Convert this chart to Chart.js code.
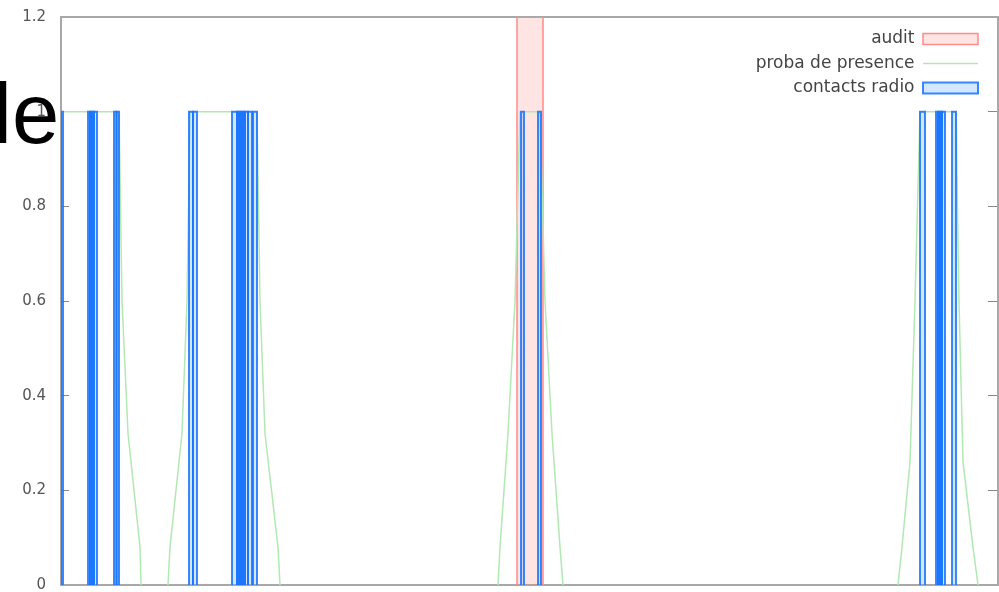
<!DOCTYPE html>
<html>
<head>
<meta charset="utf-8">
<script src="https://cdn.jsdelivr.net/npm/chart.js@4.4.1/dist/chart.umd.min.js"></script>
<style>
    html, body { margin: 0; padding: 0; background: #fff; overflow: hidden; }
    #wrap { position: relative; width: 999px; height: 592px; }
    #big-title {
        position: absolute; left: -7px; top: 71px;
        font-family: 'Liberation Sans', Arial, sans-serif;
        font-size: 85px; line-height: 85px; color: #000;
        white-space: nowrap; z-index: 2;
    }
</style>
</head>
<body>
<div id="wrap">
    <canvas id="presence-chart"></canvas>
    <div id="big-title">le</div>
</div>
<script>
// Axe X (unites de temps), axe Y
const xMin = 0;
const xMax = 937;
const yTicks = [0, 0.2, 0.4, 0.6, 0.8, 1, 1.2];
const yTickLabels = ['0', '0.2', '0.4', '0.6', '0.8', '1', '1.2'];

// Audit
const auditStart = [456];
const auditEnd = [482];
const auditValue = [1.2];

// Contacts radio (debut / fin de chaque contact)
const radioStart = [0, 27, 29, 31, 33, 53, 55.5, 128, 132, 171, 176, 178, 180, 182, 184, 187, 192, 460, 477, 859, 875, 877, 879, 881, 891];
const radioEnd   = [2, 29, 31, 33, 36, 55.5, 58, 132, 136, 176, 178, 180, 182, 184, 187, 191, 196, 463, 480, 864, 877, 879, 881, 884, 895];
const radioValue = [1, 1, 1, 1, 1, 1, 1, 1, 1, 1, 1, 1, 1, 1, 1, 1, 1, 1, 1, 1, 1, 1, 1, 1, 1];

// Proba de presence
const probaX = [0, 58, 61, 67, 79, 80, 107, 109, 121, 126, 129, 196, 199, 204, 217, 219,
    437, 439, 447, 454, 459, 479, 484, 491, 499, 502,
    837, 841, 849, 854, 859, 895, 898, 902, 912, 917, 937];
const probaY = [1, 1, 0.6, 0.32, 0.08, 0, 0, 0.08, 0.32, 0.6, 1, 1, 0.6, 0.32, 0.08, 0,
    0, 0.08, 0.32, 0.6, 1, 1, 0.6, 0.32, 0.08, 0,
    0, 0.08, 0.26, 0.6, 1, 1, 0.6, 0.26, 0.08, 0, 0];

// Transforme des intervalles en suite de boites
function boxesToPoints(starts, ends, values) {
    const pts = [];
    starts.forEach((s, i) => {
        pts.push({ x: s, y: 0 }, { x: s, y: values[i] }, { x: ends[i], y: values[i] }, { x: ends[i], y: 0 });
    });
    return pts;
}

// Pas de trait sur la ligne de base (y = 0)
const hideBase = {
    borderColor: ctx => (ctx.p0.parsed.y === 0 && ctx.p1.parsed.y === 0) ? 'rgba(0,0,0,0)' : undefined
};

// Legende en haut a droite, dans la zone du graphe
const legendCorner = {
    id: 'legendCorner',
    afterLayout(chart) {
        const lg = chart.legend;
        const area = chart.chartArea;
        const pad = lg.options.labels.padding;
        const fontSize = lg.options.labels.font.size;
        lg.left = area.right - 20 + pad - lg.width;
        lg.right = lg.left + lg.width;
        lg.top = area.top + 22 - fontSize / 2 - pad;
    }
};

// Pas de marge automatique autour des axes
function noPad(s) {
    s.paddingTop = 0;
    s.paddingBottom = 0;
    s.paddingLeft = 0;
    s.paddingRight = 0;
}

const tickFont = { family: 'DejaVu Sans', size: 15 };
const axisGray = '#a8a8a8';

window.addEventListener('load', () => {
    new Chart(document.getElementById('presence-chart'), {
        type: 'line',
        data: {
            datasets: [
                {
                    label: 'contacts radio',
                    data: boxesToPoints(radioStart, radioEnd, radioValue),
                    borderColor: 'rgba(25,115,255,0.85)',
                    backgroundColor: 'rgba(110,175,255,0.3)',
                    borderWidth: 2,
                    fill: 'origin',
                    pointRadius: 0,
                    pointStyle: 'rect',
                    tension: 0,
                    segment: hideBase
                },
                {
                    label: 'proba de presence',
                    data: probaX.map((x, i) => ({ x: x, y: probaY[i] })),
                    borderColor: '#b2e8b2',
                    backgroundColor: '#b2e8b2',
                    borderWidth: 1.5,
                    fill: false,
                    pointRadius: 0,
                    pointStyle: 'line',
                    tension: 0,
                    segment: hideBase
                },
                {
                    label: 'audit',
                    data: boxesToPoints(auditStart, auditEnd, auditValue),
                    borderColor: '#ff8a8a',
                    backgroundColor: 'rgba(255,120,120,0.2)',
                    borderWidth: 1.5,
                    fill: 'origin',
                    pointRadius: 0,
                    pointStyle: 'rect',
                    tension: 0,
                    segment: hideBase
                }
            ]
        },
        options: {
            responsive: true,
            maintainAspectRatio: false,
            animation: false,
            layout: { padding: 0 },
            plugins: {
                tooltip: { enabled: false },
                legend: {
                    position: 'chartArea',
                    align: 'start',
                    rtl: true,
                    labels: {
                        usePointStyle: true,
                        pointStyleWidth: 55,
                        boxHeight: 11,
                        padding: 7.5,
                        color: '#444',
                        font: { family: 'DejaVu Sans', size: 17 },
                        sort: (a, b) => b.datasetIndex - a.datasetIndex
                    }
                }
            },
            scales: {
                x: {
                    type: 'linear',
                    display: true,
                    min: xMin,
                    max: xMax,
                    afterFit: s => { s.height = 7; noPad(s); },
                    ticks: { display: false },
                    grid: { drawOnChartArea: false, drawTicks: false },
                    border: { color: axisGray, width: 2 }
                },
                x2: {
                    type: 'linear',
                    display: true,
                    position: 'top',
                    min: xMin,
                    max: xMax,
                    afterFit: s => { s.height = 17; noPad(s); },
                    ticks: { display: false },
                    grid: { drawOnChartArea: false, drawTicks: false },
                    border: { color: axisGray, width: 2 }
                },
                y: {
                    display: true,
                    min: 0,
                    max: 1.2,
                    afterFit: s => { s.width = 61; noPad(s); },
                    afterBuildTicks: s => { s.ticks = yTicks.map(v => ({ value: v })); },
                    ticks: {
                        padding: 23,
                        color: '#555',
                        font: tickFont,
                        callback: (v, i) => yTickLabels[i]
                    },
                    grid: { drawOnChartArea: false, tickLength: -8, color: '#888' },
                    border: { color: axisGray, width: 2 }
                },
                y2: {
                    display: true,
                    position: 'right',
                    min: 0,
                    max: 1.2,
                    afterFit: s => { s.width = 1; noPad(s); },
                    afterBuildTicks: s => { s.ticks = yTicks.map(v => ({ value: v })); },
                    ticks: { display: false },
                    grid: { drawOnChartArea: false, tickLength: -10, color: '#888' },
                    border: { color: axisGray, width: 2 }
                }
            }
        },
        plugins: [legendCorner]
    });
});
</script>
</body>
</html>
